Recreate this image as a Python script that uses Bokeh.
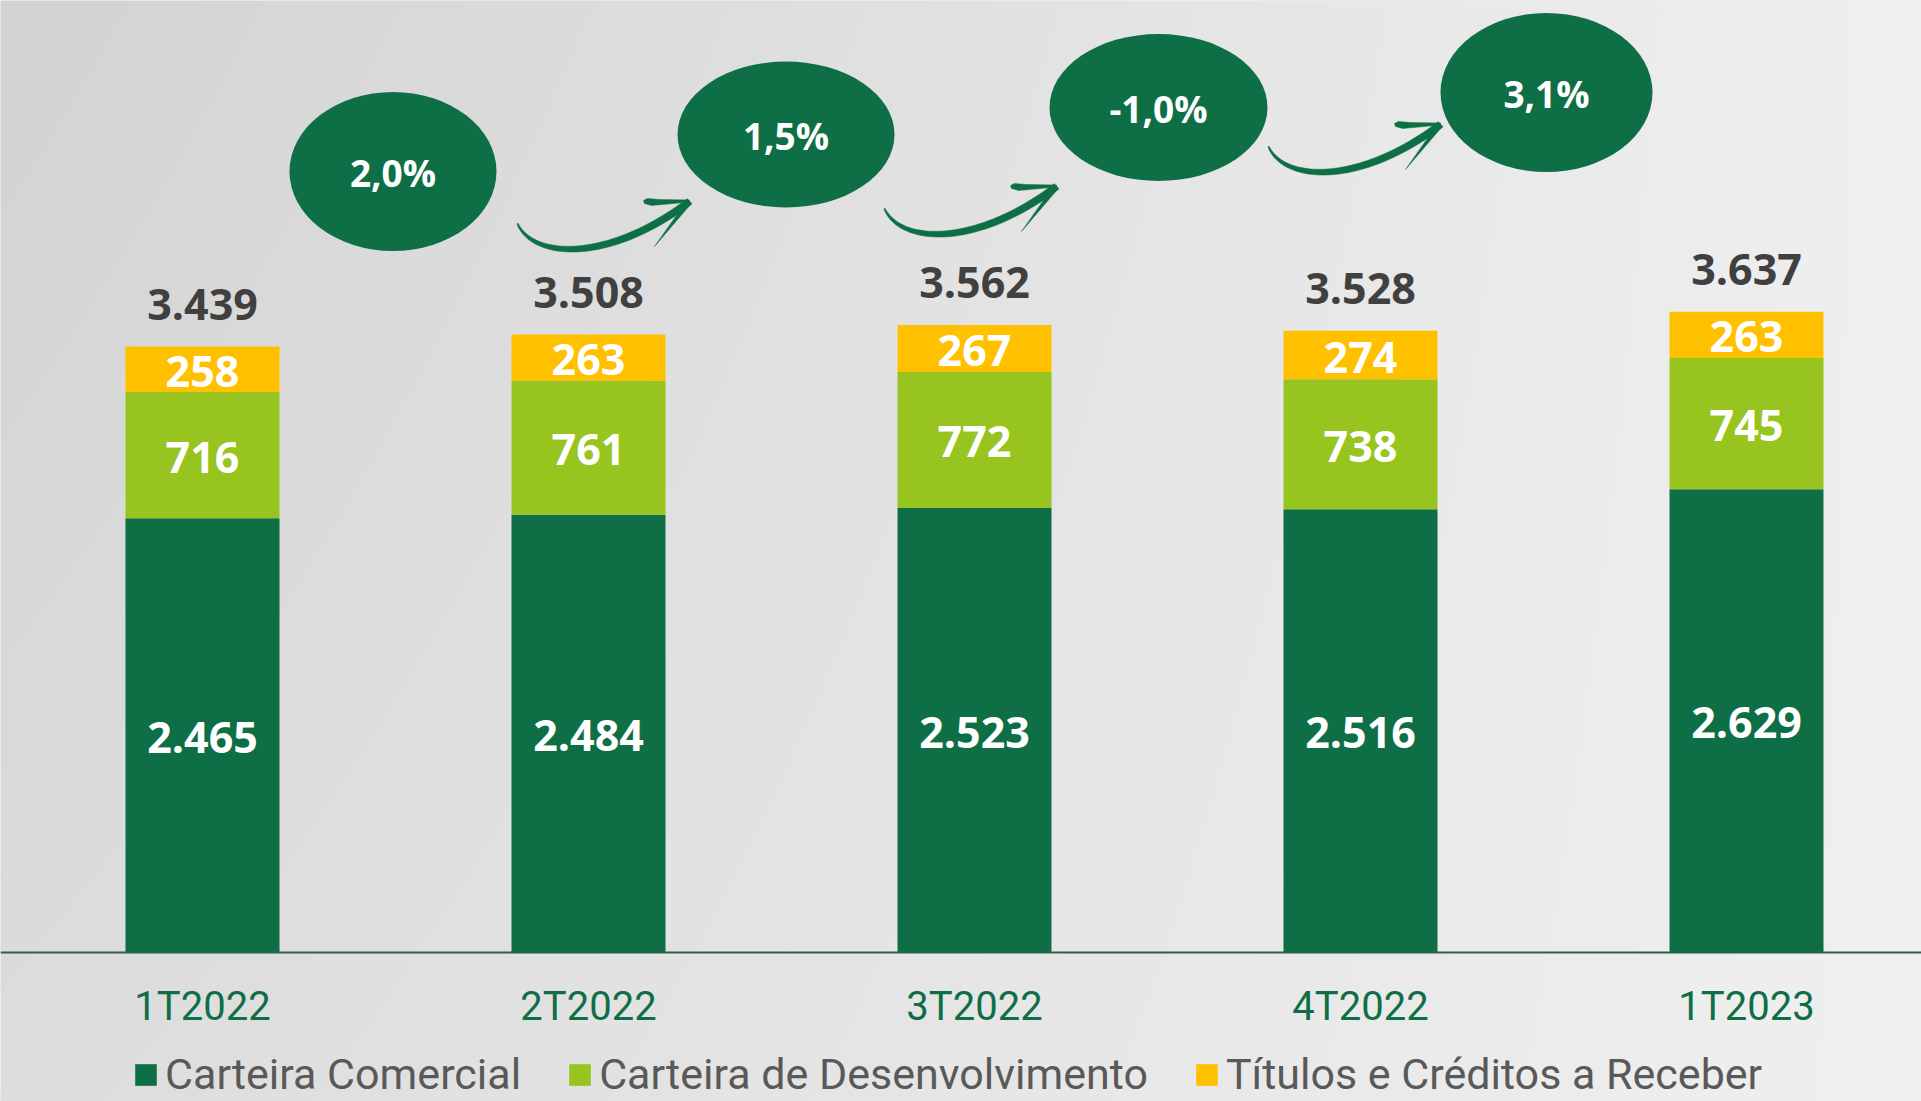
import numpy as np
from bokeh.plotting import figure
from bokeh.models import Range1d, Span, Legend, LegendItem, ColumnDataSource
from bokeh.core.properties import value
from bokeh.embed import file_html
from bokeh.resources import INLINE

# ---------------- data ----------------
quarters = ["1T2022", "2T2022", "3T2022", "4T2022", "1T2023"]
comercial = [2465, 2484, 2523, 2516, 2629]
desenvolvimento = [716, 761, 772, 738, 745]
titulos = [258, 263, 267, 274, 263]
totais = [3439, 3508, 3562, 3528, 3637]
variacao = ["2,0%", "1,5%", "-1,0%", "3,1%"]
series_names = ["Carteira Comercial", "Carteira de Desenvolvimento",
                "Títulos e Créditos a Receber"]

# ---------------- styles / layout ----------------
GREEN = "#0E6F46"
LIME = "#97C41F"
GOLD = "#FFC000"
W, H = 1921, 1101
OFF = 0             # page offset of the figure
X0 = 202.0          # frame px of category 0 centre
PX_X = 386.0        # px per category
Y0 = 952.0          # frame px (from top) of value 0
PX_Y = 0.1762       # px per unit value

def fmt(v):
    return f"{v:,}".replace(",", ".")

def dx(px):   # page px -> data x
    return (px - OFF - X0) / PX_X

def dy(py):   # page px -> data y
    return (Y0 - (py - OFF)) / PX_Y

p = figure(width=W, height=H, output_backend="svg", toolbar_location=None,
           x_axis_type=None, y_axis_type=None,
           x_range=Range1d(-X0 / PX_X, (W - X0) / PX_X),
           y_range=Range1d(-(H - Y0) / PX_Y, Y0 / PX_Y),
           min_border=0)
p.outline_line_color = None
p.grid.visible = False
p.background_fill_color = "#E0E0E0"
p.border_fill_color = "#E0E0E0"

# ---------------- background gradient ----------------
nx, ny = 480, 276
xf = (np.arange(nx) + 0.5) / nx
yf_top = 1 - (np.arange(ny) + 0.5) / ny  # row 0 is bottom
XX, YY = np.meshgrid(xf, yf_top)
g = 211 + 29 * XX + 10 * YY * (1 - XX)
img = np.empty((ny, nx), dtype=np.uint32)
v = img.view(dtype=np.uint8).reshape((ny, nx, 4))
v[:, :, 0] = g.astype(np.uint8)
v[:, :, 1] = g.astype(np.uint8)
v[:, :, 2] = g.astype(np.uint8)
v[:, :, 3] = 255
xr0, xr1 = p.x_range.start, p.x_range.end
yr0, yr1 = p.y_range.start, p.y_range.end
p.image_rgba(image=[img], x=xr0, y=yr0, dw=xr1 - xr0, dh=yr1 - yr0)

# ---------------- bars ----------------
idx = list(range(len(quarters)))
src = ColumnDataSource(dict(x=idx, com=comercial, dev=desenvolvimento, tit=titulos))
rs = p.vbar_stack(["com", "dev", "tit"], x="x", width=154 / PX_X, source=src,
                  color=[GREEN, LIME, GOLD], line_width=0)

# baseline
p.add_layout(Span(location=0, dimension="width", line_color="#2F5E4B", line_width=2))

# segment labels
num_font = value("Open Sans")
com_mid = [c / 2 for c in comercial]
dev_mid = [c + d / 2 for c, d in zip(comercial, desenvolvimento)]
tit_mid = [c + d + t / 2 for c, d, t in zip(comercial, desenvolvimento, titulos)]
for mids, vals in [(com_mid, comercial), (dev_mid, desenvolvimento), (tit_mid, titulos)]:
    p.text(x=idx, y=mids, text=[fmt(v) for v in vals], text_color="white",
           text_font=num_font, text_font_style="bold", text_font_size="43px",
           text_align="center", text_baseline="middle", y_offset=2)

# totals
p.text(x=idx, y=totais, text=[fmt(v) for v in totais], text_color="#404040",
       text_font=num_font, text_font_style="bold", text_font_size="43px",
       text_align="center", text_baseline="middle", y_offset=-42)

# category labels
p.text(x=idx, y=[0] * len(idx), text=quarters, text_color=GREEN,
       text_font=value("Roboto"), text_font_size="40px",
       text_align="center", text_baseline="middle", y_offset=54)

# ---------------- bubbles with growth ----------------
bubble_px = [(392.5, 171, 207, 159), (785.5, 134, 217, 146),
             (1158, 107, 218, 147), (1546, 92, 212, 159)]
bx = [dx(b[0]) for b in bubble_px]
by = [dy(b[1]) for b in bubble_px]
p.ellipse(x=bx, y=by, width=[b[2] for b in bubble_px], height=[b[3] for b in bubble_px],
          width_units="screen", height_units="screen", fill_color=GREEN, line_color=None)
p.text(x=bx, y=by, text=variacao, text_color="white", text_font=num_font,
       text_font_style="bold", text_font_size="37px", text_align="center",
       text_baseline="middle", y_offset=1)

# ---------------- brush arrows ----------------
arrow_starts = [(517, 223), (884, 208), (1268, 146)]
P = np.array([[0, 0], [15, 35], [90, 40], [172, -22]], float)
t = np.linspace(0, 1, 50)
B = (((1 - t) ** 3)[:, None] * P[0] + (3 * (1 - t) ** 2 * t)[:, None] * P[1]
     + (3 * (1 - t) * t ** 2)[:, None] * P[2] + (t ** 3)[:, None] * P[3])
D = ((3 * (1 - t) ** 2)[:, None] * (P[1] - P[0]) + (6 * (1 - t) * t)[:, None] * (P[2] - P[1])
     + (3 * t ** 2)[:, None] * (P[3] - P[2]))
N = np.stack([-D[:, 1], D[:, 0]], 1)
N /= np.linalg.norm(N, axis=1)[:, None]
hw = 0.6 + 3.0 * np.sin(np.pi * t * 0.55) ** 0.8
shaft = np.vstack([B + N * hw[:, None], (B - N * hw[:, None])[::-1]])
tip = P[3]
upper = np.array([[0, 0.5], [-38, 4], [-45, 2], [-46, -1], [-42, -3], [-30, -2], [0, -1.5]]) + tip
lower = np.array([[2.2, 1.6], [-35, 45], [-2.2, -1.6]]) + tip

xs, ys = [], []
for sx, sy in arrow_starts:
    for shape in (shaft, upper, lower):
        xs.append([dx(sx + a) for a in shape[:, 0]])
        ys.append([dy(sy + b) for b in shape[:, 1]])
p.patches(xs=xs, ys=ys, fill_color=GREEN, line_color=GREEN, line_width=0.5)

# ---------------- legend ----------------
legend = Legend(items=[LegendItem(label=n, renderers=[r]) for n, r in zip(series_names, rs)],
                orientation="horizontal", location=(132, 2),
                label_text_font="Roboto", label_text_font_size="43px",
                label_text_color="#595959", glyph_width=27, glyph_height=27,
                label_standoff=6, spacing=45, padding=0, margin=0,
                border_line_color=None, background_fill_alpha=0)
p.add_layout(legend)

open("out.html", "w").write(file_html(p, INLINE))
